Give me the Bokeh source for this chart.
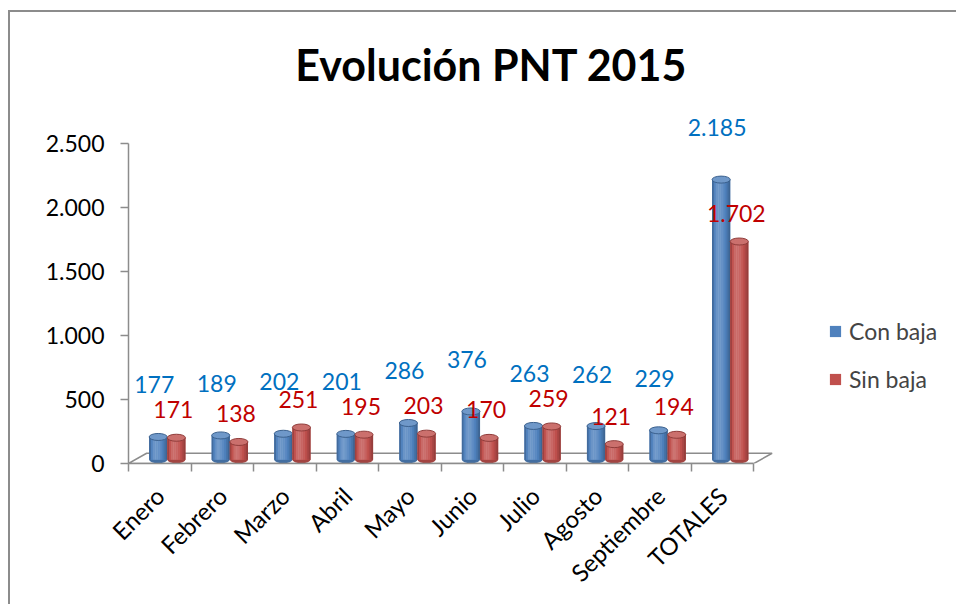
import numpy as np
from math import pi
from bokeh.plotting import figure
from bokeh.models import Range1d, FixedTicker, Legend, LegendItem, Label
from bokeh.core.properties import value
from bokeh.embed import file_html
from bokeh.resources import INLINE

# ---------------- data ----------------
categories = ["Enero", "Febrero", "Marzo", "Abril", "Mayo", "Junio",
              "Julio", "Agosto", "Septiembre", "TOTALES"]
con_baja = [177, 189, 202, 201, 286, 376, 263, 262, 229, 2185]
sin_baja = [171, 138, 251, 195, 203, 170, 259, 121, 194, 1702]
series_names = ["Con baja", "Sin baja"]
y_ticks = [0, 500, 1000, 1500, 2000, 2500]
y_tick_labels = ["0", "500", "1.000", "1.500", "2.000", "2.500"]
title_text = "Evolución PNT 2015"

# ---------------- style ----------------
FONT = "Lato"
BLUE = (79, 129, 189)
RED = (192, 80, 77)
BLUE_TXT = "#0070C0"
RED_TXT = "#C00000"
AXIS_GRAY = "#8c8c8c"

n = len(categories)
centers = np.arange(n) + 0.5
SHIFT = 0.12        # 3D perspective shift of bars
BW = 0.29           # width of one cylinder
LIFT = 30           # bars stand in the middle of the 3D floor

p = figure(width=946, height=592, output_backend="svg", toolbar_location=None,
           x_range=Range1d(0, 13.27), y_range=Range1d(0, 3518.8),
           min_border_left=118, min_border_right=0, min_border_top=0,
           min_border_bottom=143)
p.xgrid.visible = False
p.ygrid.visible = False
p.outline_line_color = None
p.background_fill_color = "white"
p.border_fill_color = "white"
p.styles = {"border-left": "2px solid #8c8c8c", "border-top": "2px solid #8c8c8c",
            "border-right": "none", "border-bottom": "none",
            "box-sizing": "content-box", "overflow": "visible",
            "margin-left": "8px", "margin-top": "10px"}

# 3D floor
dx, dy = 0.29, 80
p.patch([0, n, n + dx, dx], [0, 0, dy, dy], fill_color="white",
        line_color=AXIS_GRAY, line_width=1.5)


def hexc(rgb):
    r, g, b = [int(max(0, min(255, round(c)))) for c in rgb]
    return "#%02x%02x%02x" % (r, g, b)


def shade(rgb, k):
    if k >= 0:
        return hexc([c + (255 - c) * k for c in rgb])
    return hexc([c * (1 + k) for c in rgb])


def cylinder(xs, vals, base):
    xs = np.asarray(xs, dtype=float)
    tops = np.asarray(vals, dtype=float) + LIFT
    p.ellipse(x=xs, y=np.full(n, LIFT), width=BW, height=7, height_units="screen",
              fill_color=shade(base, -0.15), line_color=None)
    main = p.vbar(x=xs, width=BW, bottom=LIFT, top=tops,
                  fill_color=hexc(base), line_color=None)
    ns = 10
    for i in range(ns):
        t = (i + 0.5) / ns
        d = abs(t - 0.35) / (0.65 if t > 0.35 else 0.35)
        k = 0.22 - 0.5 * d ** 1.6
        p.vbar(x=xs - BW / 2 + BW * t, width=BW / ns * 1.05, bottom=LIFT, top=tops,
               fill_color=shade(base, k), line_color=None)
    p.ellipse(x=xs, y=tops, width=BW, height=7, height_units="screen",
              fill_color=shade(base, 0.18), line_color=shade(base, -0.25), line_width=1)
    return main


xb = centers + SHIFT - BW / 2
xr = centers + SHIFT + BW / 2
rb = cylinder(xb, con_baja, BLUE)
rr = cylinder(xr, sin_baja, RED)


def fmt(v):
    return f"{v:,}".replace(",", ".")


p.text(x=xb, y=np.asarray(con_baja) + LIFT, text=[fmt(v) for v in con_baja],
       text_color=BLUE_TXT, text_font=value(FONT), text_font_size="23px",
       text_align="center", text_baseline="middle", x_offset=-4, y_offset=-52)
p.text(x=xr, y=np.asarray(sin_baja) + LIFT, text=[fmt(v) for v in sin_baja],
       text_color=RED_TXT, text_font=value(FONT), text_font_size="23px",
       text_align="center", text_baseline="middle", x_offset=-3, y_offset=-28)

# axes
yax = p.yaxis[0]
yax.ticker = FixedTicker(ticks=y_ticks)
yax.major_label_overrides = {t: l for t, l in zip(y_ticks, y_tick_labels)}
yax.bounds = (0, 2500)
yax.axis_line_color = AXIS_GRAY
yax.axis_line_width = 1.5
yax.major_tick_line_color = AXIS_GRAY
yax.major_tick_line_width = 1.5
yax.major_tick_out = 8
yax.major_tick_in = 0
yax.minor_tick_line_color = None
yax.major_label_standoff = 16
yax.major_label_text_font = FONT
yax.major_label_text_font_size = "23px"
yax.major_label_text_color = "black"

xax = p.xaxis[0]
xax.ticker = FixedTicker(ticks=list(centers), minor_ticks=list(range(n + 1)))
xax.major_label_overrides = {float(c): lab for c, lab in zip(centers, categories)}
xax.bounds = (0, n)
xax.axis_line_color = AXIS_GRAY
xax.axis_line_width = 1.5
xax.major_tick_line_color = None
xax.major_tick_out = 0
xax.major_tick_in = 0
xax.minor_tick_line_color = AXIS_GRAY
xax.minor_tick_line_width = 1.5
xax.minor_tick_out = 8
xax.minor_tick_in = 0
xax.major_label_orientation = pi / 4
xax.major_label_standoff = 20
xax.major_label_text_font = FONT
xax.major_label_text_font_size = "24px"
xax.major_label_text_color = "black"

legend = Legend(items=[LegendItem(label=series_names[0], renderers=[rb]),
                       LegendItem(label=series_names[1], renderers=[rr])],
                location=(700, 70), border_line_color=None, background_fill_alpha=0,
                padding=0, margin=0, glyph_width=14, glyph_height=14,
                label_text_font=FONT, label_text_font_size="23px",
                label_standoff=7, spacing=20)
p.add_layout(legend)

p.add_layout(Label(x=363, y=399, x_units="screen", y_units="screen", text=title_text,
                   text_font=FONT, text_font_style="bold", text_font_size="43px",
                   text_align="center", text_baseline="middle", text_color="black"))

open("out.html", "w").write(file_html(p, INLINE))
